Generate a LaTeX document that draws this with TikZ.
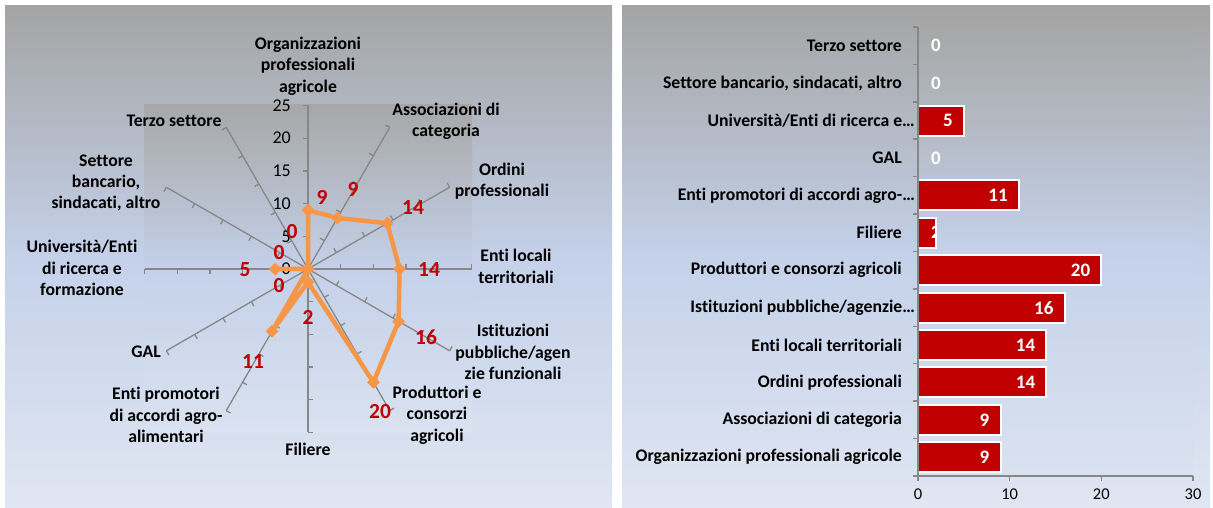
\documentclass[tikz,border=0pt]{standalone}
\usepackage{fontspec}
\setmainfont{Carlito}[Ligatures=NoCommon]
\usetikzlibrary{calc,shapes.geometric}
\definecolor{chartOrange}{HTML}{F79646}
\definecolor{barRed}{HTML}{C00000}
\definecolor{axisGray}{HTML}{878787}
\definecolor{bgTop}{HTML}{A4A4A4}
\definecolor{bgMid}{HTML}{C4D1E9}
\definecolor{bgBot}{HTML}{E0E6F2}
\definecolor{plotTop}{HTML}{A7A7A7}
\definecolor{plotBot}{HTML}{DAE2F0}

\begin{document}
\begin{tikzpicture}[x=1pt,y=1pt,
    cat/.style={font=\bfseries\fontsize{17.7}{21.3}\selectfont,align=center,inner sep=0pt},
    redval/.style={font=\bfseries\fontsize{21.5}{25}\selectfont,text=barRed,inner sep=0pt},
    tickval/.style={font=\fontsize{18}{21}\selectfont,inner sep=0pt,anchor=east},
    barval/.style={font=\bfseries\fontsize{19}{22}\selectfont,text=white,inner sep=0pt,anchor=east},
    baraxis/.style={font=\fontsize{16.5}{20}\selectfont,inner sep=0pt},
    spoke/.style={draw=axisGray,line width=1.3pt},
    dmark/.style={diamond,fill=chartOrange,inner sep=0pt,minimum size=13pt}]
  \useasboundingbox (0,0) rectangle (1213,508);

  % panels
  \shade[top color=bgTop,bottom color=bgBot,middle color=bgMid] (5,0) rectangle (612,502);
  \shade[top color=bgTop,bottom color=bgBot,middle color=bgMid] (622,0) rectangle (1210,502);
  \shade[top color=plotTop,bottom color=plotBot,middle color=bgMid] (144,75) rectangle (472,403);
  \shade[top color=plotTop,bottom color=plotBot,middle color=bgMid] (918,32) rectangle (1193,481);

  % radar
  \coordinate (rc) at (308,239);
  \foreach \k in {0,...,11} {
    \draw[spoke] (rc) -- ++({90-30*\k}:163.5);
    \foreach \t in {1,...,5}
      \draw[spoke] ($(rc)+({90-30*\k}:\t*32.7)$) -- ++({180-30*\k}:5);
  }
  \foreach \t/\s in {0/0,1/5,2/10,3/15,4/20,5/25}
    \node[tickval] (t\t) at ($(rc)+(-17,\t*32.7)$) {\s};

  \foreach \v [count=\k from 0] in {9,9,14,14,16,20,2,11,0,5,0,0}
    \coordinate (p\k) at ($(rc)+({90-30*\k}:\v*6.54)$);
  \draw[chartOrange,line width=4.5pt,line join=round]
    (p0) \foreach \k in {1,...,11} { -- (p\k) } -- cycle;
  \foreach \k in {0,...,11}
    \node[dmark] (d\k) at (p\k) {};

  \foreach \v/\x/\y [count=\k from 0] in {9/322/311,9/353/319,14/413/300,14/429/238,
      16/426/171,20/380/96,2/308/191,11/253/146,0/279/222,5/245/238,0/279/255,0/292/276}
    \node[redval] (v\k) at (\x,\y) {\v};

  \node[cat] (org) at (308,442) {Organizzazioni\\professionali\\agricole};
  \node[cat] (assoc) at (446,387) {Associazioni di\\categoria};
  \node[cat] (ordini) at (502,327) {Ordini\\professionali};
  \node[cat] (entiloc) at (516,241.5) {Enti locali\\territoriali};
  \node[cat] (istit) at (513,156) {Istituzioni\\pubbliche/agen\\zie funzionali};
  \node[cat] (prod) at (437,93) {Produttori e\\consorzi\\agricoli};
  \node[cat] (filiere) at (308,59) {Filiere};
  \node[cat] (promot) at (166,93) {Enti promotori\\di accordi agro-\\alimentari};
  \node[cat] (gal) at (146,156) {GAL};
  \node[cat] (univ) at (82,240) {Università/Enti\\di ricerca e\\formazione};
  \node[cat] (settore) at (106,325) {Settore\\bancario,\\sindacati, altro};
  \node[cat] (terzo) at (174,387) {Terzo settore};

  % bar chart
  \foreach \v [count=\j from 0] in {9,9,14,14,16,20,2,11,0,5,0,0} {
    \pgfmathsetmacro\bx{918+9.167*\v}
    \pgfmathsetmacro\lx{max(\bx-11,941)}
    \pgfmathsetmacro\yc{32+37.42*(\j+0.5)}
    \ifnum\v>0
      \fill[barRed] (918,{\yc-15}) rectangle (\bx,{\yc+15});
      \begin{scope}
        \clip (918,{\yc-15}) rectangle (\bx,{\yc+15});
        \node[barval] (bv\j) at (\lx,\yc) {\v};
      \end{scope}
      \draw[white,line width=2pt] (918,{\yc-15}) rectangle (\bx,{\yc+15});
    \else
      \node[barval] (bv\j) at (\lx,\yc) {\v};
    \fi
  }
  \draw[axisGray,line width=1.5pt] (918,481) -- (918,32) -- (1193,32);
  \foreach \j in {0,...,12}
    \draw[axisGray,line width=1.5pt] (918,{32+37.42*\j}) -- ++(-5,0);
  \foreach \s [count=\j from 0] in {0,10,20,30} {
    \draw[axisGray,line width=1.5pt] ({918+91.67*\j},32) -- ++(0,-5);
    \node[baraxis] (x\j) at ({918+91.67*\j},14) {\s};
  }
  \foreach \lx/\name [count=\j from 0] in {902/{Organizzazioni professionali agricole},
      902/{Associazioni di categoria},902/{Ordini professionali},902/{Enti locali territoriali},
      915/{Istituzioni pubbliche/agenzie…},902/{Produttori e consorzi agricoli},902/{Filiere},
      915/{Enti promotori di accordi agro-…},902/{GAL},915/{Università/Enti di ricerca e…},
      902/{Settore bancario, sindacati, altro},902/{Terzo settore}}
    \node[cat,anchor=east] (bl\j) at (\lx,{32+37.42*(\j+0.5)}) {\name};
\end{tikzpicture}
\end{document}
